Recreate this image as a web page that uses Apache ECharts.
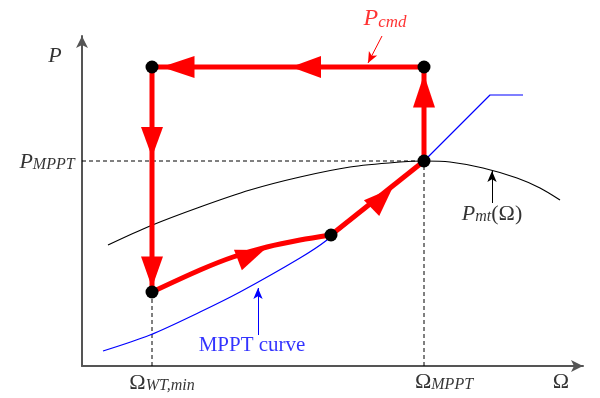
<!DOCTYPE html>
<html>
<head>
<meta charset="utf-8"/>
<title>MPPT operating path</title>
<script src="https://cdn.jsdelivr.net/npm/echarts@6/dist/echarts.min.js"></script>
<style>
html,body{margin:0;padding:0;background:#fff;}
#main{width:600px;height:398px;}
</style>
</head>
<body>
<div id="main"></div>
<script type="text/javascript">
// values, origin where the two axes cross
var pmtCurve = [[26,121],[68,140],[118,159],[168,176],[218,189],[268,199],[318,204],[342,205],[368,204],[401,198],[435,188],[458,178],[478,166]];
var mpptCurve = [[21,15],[68,31],[118,54],[158,74],[218,108],[245,126],[342,205]];
var mpptLimit = [[342,205],[408,271],[441,271]];
var cmdPath = [[342,205],[342,299],[70,299],[70,74]];
var risePath = [[70,74],[118,96],[151,109],[185,119],[218,126],[249,131]];
var climbPath = [[249,131],[342,205]];
var opPoints = [[70,299],[342,299],[342,205],[249,131],[70,74]];
// arrowhead centre x, y, rotation
var arrowHeads = [[96,299,90],[224,299,90],[70,224,180],[70,94,180],[169,111,-69],[300,168,-46],[342,275,0]];
var arrowSizes = [[22,33],[22,30],[22,30],[22,31],[22,28],[22,29],[22,33]];
var guidePmppt = [[0,205],[342,205]];
var guideWmppt = [[342,0],[342,205]];
var guideWmin = [[70,0],[70,74]];
var pcmdPointer = [[300,330],[286,303]];
var pmtPointer = [[410,163],[410,195]];
var mpptPointer = [[176,31],[176,78]];
var labelTexts = ['{i|P}', '{i|P}{s|MPPT}', '{o|Ω}{s|WT,min}', '{o|Ω}{s|MPPT}', '{o|Ω}', '{i|P}{s|mt}{o|(Ω)}', '{b|MPPT curve}', '{r|P}{rs|cmd}'];
var labelAnchors = [[-27,311],[-35,205],[80,-16],[362,-15],[479,-15],[410,153],[170,21],[303,348]];

var serif = 'Liberation Serif';
var rich = {
	i: {fontFamily: serif, fontStyle: 'italic', fontSize: 22, color: '#000', lineHeight: 24, verticalAlign: 'bottom'},
	o: {fontFamily: serif, fontSize: 22, color: '#000', lineHeight: 24, verticalAlign: 'bottom'},
	s: {fontFamily: serif, fontStyle: 'italic', fontSize: 16, color: '#000', lineHeight: 12, verticalAlign: 'bottom'},
	b: {fontFamily: serif, fontSize: 21, color: '#0000ff', lineHeight: 24},
	r: {fontFamily: serif, fontStyle: 'italic', fontSize: 24, color: '#ff0000', lineHeight: 26, verticalAlign: 'bottom'},
	rs: {fontFamily: serif, fontStyle: 'italic', fontSize: 17, color: '#ff0000', lineHeight: 12, verticalAlign: 'bottom'}
};

function curve(data, color, width, smooth, z, dash) {
	return {
		type: 'line', data: data, symbol: 'none', smooth: smooth, z: z, silent: true, clip: false,
		lineStyle: {color: color, width: width, type: dash || 'solid'}
	};
}

function pointer(pts, color) {
	return {
		type: 'line', data: [], z: 4,
		markLine: {
			silent: true, symbol: ['none', 'arrow'], symbolSize: [7, 11],
			label: {show: false},
			lineStyle: {color: color, width: 1, type: 'solid'},
			data: [[{coord: pts[0]}, {coord: pts[1]}]]
		}
	};
}

var axisCommon = {
	type: 'value', min: 0,
	axisLine: {show: true, symbol: ['none', 'arrow'], symbolSize: [9, 12], lineStyle: {color: '#555', width: 2}},
	axisTick: {show: false}, axisLabel: {show: false}, splitLine: {show: false}
};

var myChart = echarts.init(document.getElementById('main'));
var option = {
	animation: false,
	backgroundColor: '#fff',
	grid: {left: 82, right: 17, top: 36, bottom: 32},
	xAxis: Object.assign({}, axisCommon, {max: 501}),
	yAxis: Object.assign({}, axisCommon, {max: 330}),
	series: [
		curve(guidePmppt, '#000', 1, false, 1, [4, 3]),
		curve(guideWmppt, '#000', 1, false, 1, [4, 3]),
		curve(guideWmin, '#000', 1, false, 1, [4, 3]),
		curve(pmtCurve, '#000', 1.2, 0.3, 2),
		curve(mpptCurve, '#0000ff', 1.2, 0.3, 2),
		curve(mpptLimit, '#0000ff', 1.2, false, 2),
		curve(cmdPath, '#ff0000', 5, false, 3),
		curve(risePath, '#ff0000', 5, 0.3, 3),
		curve(climbPath, '#ff0000', 5, false, 3),
		pointer(pcmdPointer, '#ff0000'),
		pointer(pmtPointer, '#000'),
		pointer(mpptPointer, '#0000ff'),
		{
			type: 'scatter', symbol: 'triangle', clip: false, z: 5, silent: true,
			itemStyle: {color: '#ff0000', opacity: 1},
			data: arrowHeads.map(function (a, i) {
				return {value: [a[0], a[1]], symbolRotate: a[2], symbolSize: arrowSizes[i]};
			})
		},
		{
			type: 'scatter', symbolSize: 13, clip: false, z: 6, silent: true,
			itemStyle: {color: '#000', opacity: 1},
			data: opPoints
		},
		{
			type: 'scatter', symbolSize: 1, clip: false, z: 7, silent: true,
			itemStyle: {color: 'rgba(0,0,0,0)'},
			label: {show: true, position: 'inside', rich: rich},
			data: labelAnchors.map(function (p, i) {
				return {value: p, label: {formatter: function () { return labelTexts[i]; }}};
			})
		}
	]
};
myChart.setOption(option);
</script>
</body>
</html>
